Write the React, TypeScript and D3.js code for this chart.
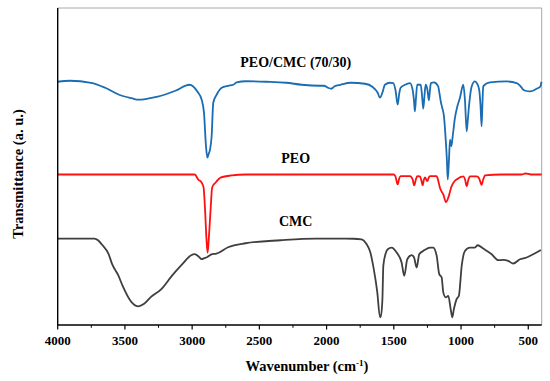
import React from 'react';
import * as d3 from 'd3';

// tick values on the wavenumber axis
const majorTicks = [4000, 3500, 3000, 2500, 2000, 1500, 1000, 500];
const minorTicks = [3750, 3250, 2750, 2250, 1750, 1250, 750];

// spectra: [wavenumber, transmittance (a. u.)]
const blendSpectrum: [number, number][] = [
  [4000, 244], [3909, 245], [3752, 243], [3647, 238], [3543, 231], [3450, 227.5], [3399, 226],
  [3330, 227], [3256, 229], [3125, 235], [3020, 241], [2992, 239.3], [2960, 234], [2929, 226],
  [2912, 213], [2897, 179.3], [2887, 168], [2876, 172], [2867, 176], [2855, 189.3], [2843, 223],
  [2818, 231], [2780, 238], [2733, 240], [2694, 241], [2669, 243.3],
  [2600, 244.5], [2450, 244], [2300, 243], [2185, 241], [2050, 240], [2020, 240], [1990, 238],
  [1965, 237], [1940, 239.5], [1897, 241], [1819, 243], [1714, 242], [1660, 239], [1620, 233], [1603, 228],
  [1585, 233], [1566, 241], [1530, 243], [1504, 242.7], [1488, 236], [1471, 221], [1460, 232],
  [1449, 238], [1417, 241], [1380, 242.7], [1360, 236], [1350, 225], [1343, 214.3], [1335, 228],
  [1326, 241], [1300, 241], [1290, 230], [1281, 217], [1272, 230], [1263, 241], [1250, 236],
  [1239, 225.3], [1231, 236], [1224, 242.7], [1201, 243.3], [1170, 239.3], [1160, 232],
  [1149, 223], [1140, 218], [1127, 209.3], [1114, 186], [1105, 165], [1099, 146], [1090, 165],
  [1082, 186], [1072, 179.3], [1062, 189.3], [1045, 208], [1030, 218], [1008, 228], [983, 241],
  [971, 226], [958, 194.3], [950, 205], [941, 219.3], [921, 239.3], [897, 244.3], [880, 242],
  [865, 236], [855, 220], [847, 199.3], [840, 225], [835, 239.3], [785, 243.3], [661, 244.3],
  [586, 242.7], [560, 240], [537, 236], [520, 235], [487, 234.3], [438, 237], [410, 239.3],
  [402, 244],
];

const peoSpectrum: [number, number][] = [
  [4000, 151], [3500, 151], [3000, 151], [2981, 151], [2955, 146], [2929, 142.7], [2915, 138],
  [2903, 113], [2893, 85], [2885, 72.5], [2877, 85], [2864, 113], [2851, 138], [2825, 143],
  [2785, 148], [2707, 150], [2600, 151], [2000, 151], [1500, 151], [1488, 149], [1471, 141],
  [1460, 147], [1449, 149.3], [1380, 149.3], [1360, 146], [1348, 140], [1336, 146],
  [1326, 149.3], [1306, 149], [1295, 145], [1286, 140], [1276, 146], [1268, 148], [1251, 144.3],
  [1240, 148], [1231, 149.3], [1182, 149.3], [1170, 145], [1157, 137.7], [1132, 131],
  [1112, 123.3], [1095, 127.7], [1070, 139.3], [1050, 144], [1033, 146], [983, 149], [970, 146],
  [958, 139.3], [945, 146], [934, 149], [884, 149], [865, 147], [847, 140.7], [835, 146],
  [822, 150], [700, 151], [550, 151], [520, 152], [480, 151], [400, 151],
];

const cmcSpectrum: [number, number][] = [
  [4000, 86.7], [3726, 86.7], [3700, 85], [3673, 81], [3621, 71], [3595, 61], [3550, 50],
  [3517, 39.3], [3451, 23], [3399, 18.7], [3360, 21], [3308, 28], [3229, 36], [3151, 49.3],
  [3073, 61], [3007, 70], [2981, 71], [2950, 68.5], [2929, 66], [2910, 67], [2890, 68],
  [2851, 71], [2820, 71.5], [2733, 78], [2603, 82], [2341, 85], [2080, 86.7], [1800, 86.5],
  [1741, 86], [1702, 81], [1675, 73], [1649, 56], [1623, 33], [1603, 8], [1597, 8], [1585, 25],
  [1578, 59.3], [1560, 72], [1545, 76], [1516, 77.7], [1479, 72.7], [1442, 62.7], [1422, 49.3],
  [1400, 66], [1367, 70], [1350, 68], [1330, 57.7], [1311, 71], [1281, 74.3], [1231, 77.7],
  [1207, 77.7], [1181, 69.3], [1162, 51], [1144, 47.7], [1132, 32.7], [1114, 27.7], [1095, 29.3],
  [1077, 16], [1065, 7.7], [1053, 16], [1033, 26], [1016, 29.3], [995, 59.3], [971, 74.3],
  [934, 77.7], [897, 77.7], [876, 80], [835, 76.7], [772, 71], [723, 65], [686, 65.3],
  [649, 64.3], [612, 61.7], [562, 66], [512, 67.7], [463, 71], [406, 75.3],
];

const series = [
  { name: 'PEO/CMC (70/30)', data: blendSpectrum, color: '#1a6cb3', labelY: 67 },
  { name: 'PEO', data: peoSpectrum, color: '#ff1010', labelY: 163 },
  { name: 'CMC', data: cmcSpectrum, color: '#3f3f3f', labelY: 226 },
];

export default function App() {
  const width = 550;
  const height = 381;
  const margin = { top: 8, right: 8.3, bottom: 56, left: 57.7 };
  const font = '"Liberation Serif", "Times New Roman", serif';

  const x = d3.scaleLinear()
    .domain([4000, 400])
    .range([margin.left, width - margin.right]);

  const y = d3.scaleLinear()
    .domain([0, 318])
    .range([height - margin.bottom, margin.top]);

  const line = d3.line<[number, number]>()
    .x(d => x(d[0]))
    .y(d => y(d[1]))
    .curve(d3.curveMonotoneX);

  const bottom = height - margin.bottom;
  const labelX = (margin.left + width - margin.right) / 2 - 4;

  return (
    <svg width={width} height={height} style={{ position: 'absolute', left: 0, top: 0, background: '#fff' }}>
      {/* frame */}
      <line x1={margin.left} x2={width - margin.right} y1={margin.top} y2={margin.top} stroke="#a8a8a8" strokeWidth={1} />
      <line x1={width - margin.right} x2={width - margin.right} y1={margin.top} y2={bottom} stroke="#a8a8a8" strokeWidth={1} />

      {series.map(s => (
        <path key={s.name} d={line(s.data) ?? ''} fill="none" stroke={s.color} strokeWidth={1.8} strokeLinejoin="round" />
      ))}

      <line x1={margin.left} x2={margin.left} y1={margin.top} y2={bottom} stroke="#000" strokeWidth={1.4} />
      <line x1={margin.left} x2={width - margin.right} y1={bottom} y2={bottom} stroke="#000" strokeWidth={1.4} />

      {majorTicks.map(t => (
        <g key={t}>
          <line x1={x(t)} x2={x(t)} y1={bottom} y2={bottom + 4.5} stroke="#000" strokeWidth={1.2} />
          <text x={x(t)} y={bottom + 20} textAnchor="middle" fontFamily={font} fontWeight="bold" fontSize={13}>{t}</text>
        </g>
      ))}
      {minorTicks.map(t => (
        <line key={t} x1={x(t)} x2={x(t)} y1={bottom} y2={bottom + 2.8} stroke="#000" strokeWidth={1} />
      ))}

      {/* curve labels */}
      {series.map(s => (
        <text key={s.name} x={labelX} y={s.labelY} textAnchor="middle" fontFamily={font} fontWeight="bold" fontSize={14}>{s.name}</text>
      ))}

      {/* axis titles */}
      <text x={307} y={371} textAnchor="middle" fontFamily={font} fontWeight="bold" fontSize={14.5}>
        Wavenumber (cm<tspan fontSize={9} dy={-5}>-1</tspan><tspan dy={5}>)</tspan>
      </text>
      <text transform={`translate(23, 174) rotate(-90)`} textAnchor="middle" fontFamily={font} fontWeight="bold" fontSize={14.5}>
        Transmittance (a. u.)
      </text>
    </svg>
  );
}
